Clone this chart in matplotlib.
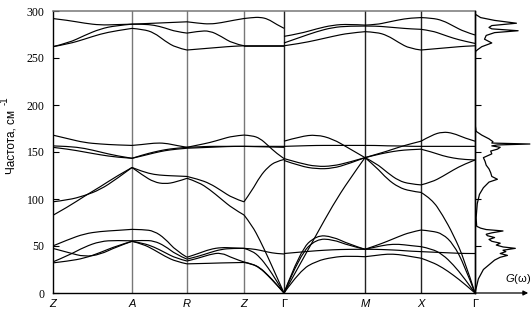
import numpy as np
import matplotlib
matplotlib.use('Agg')
import matplotlib.pyplot as plt
from matplotlib.path import Path
from matplotlib.patches import PathPatch

# high-symmetry points along the path (relative path length) and their labels
kpath = [0, 79.3, 134.3, 191.3, 231.3, 312.3, 368.3, 422.3]
klabels = ['Z', 'A', 'R', 'Z', 'Γ', 'M', 'X', 'Γ']

# phonon branches, cm^-1, read at 6 equally spaced points along each segment
seg_ZA = [
    [292, 290, 287, 285, 285.5, 286],
    [262, 266, 274, 281, 284.5, 286],
    [262, 265, 270, 275.5, 279, 281.5],
    [168, 164, 160, 158.5, 157.5, 157],
    [156.5, 156, 154, 150, 146, 143.3],
    [155, 153, 150, 147, 144.5, 143.3],
    [97, 99, 103.5, 110, 121, 133.5],
    [82.5, 92, 103, 113, 124, 133.5],
    [50, 57, 63, 65.5, 66.5, 67.7],
    [47.5, 43, 38.5, 41, 49, 55],
    [33, 40, 49, 55, 56, 55.5],
    [32, 34, 37, 43, 50, 55],
]
seg_AR = [
    [286, 286.5, 287, 287.5, 288, 288.5],
    [286, 286, 285, 282, 278, 276.5],
    [281.5, 280.5, 277, 268, 261, 258.5],
    [157, 158, 159.5, 159.5, 157, 155],
    [143.3, 147, 150, 152.5, 154, 155],
    [143.3, 146, 149, 151.5, 153, 154],
    [133.5, 129, 126, 125, 124.5, 124],
    [133.5, 125, 118, 116, 118, 122],
    [67.7, 67.5, 66, 58, 45, 38],
    [55.5, 56, 55.5, 50, 41, 36],
    [55, 53, 49, 43, 37, 34],
    [55, 52, 46, 39, 33.5, 31],
]
seg_RZ = [
    [288.5, 287, 286, 287.5, 290, 292],
    [276.5, 278.5, 279, 273, 265.5, 263],
    [258.5, 259.5, 260.5, 261.5, 262.5, 263],
    [155, 157.5, 160, 163.5, 167, 168],
    [155, 155.5, 156, 156, 156, 156],
    [154, 154.5, 155, 155.5, 156, 156],
    [124, 121, 116.5, 109, 101, 97],
    [122, 118, 110, 100, 90, 83],
    [38, 42, 46.5, 48.5, 48, 47.5],
    [36, 39, 43, 46.5, 47.5, 47.5],
    [34, 37, 41, 43, 37, 33],
    [31, 31.3, 31.6, 32, 32.2, 32.5],
]
seg_ZG = [
    [292, 293, 293.4, 291.5, 286, 281.6],
    [263, 263, 263, 263, 263, 263],
    [262.5, 262.5, 262.5, 262.5, 262.5, 262.5],
    [168, 167.5, 164.5, 157, 149, 143],
    [156, 156, 156, 156, 156, 156],
    [156, 155.8, 155.6, 155.4, 155.2, 155],
    [97, 109, 124, 134, 140, 142],
    [83, 72, 56, 38, 19, 0],
    [47.5, 47, 45.5, 43.5, 42, 41.5],
    [47.5, 45, 38, 27, 14, 0],
    [33, 31, 27, 19, 10, 0],
    [32.5, 31, 26.5, 18.5, 9.5, 0],
]
seg_GM = [
    [273, 276, 281, 285, 286, 285],
    [266, 272, 278, 282.5, 284, 284],
    [263, 265.5, 269, 273, 276.5, 278],
    [161.5, 166.5, 168.5, 164, 154, 144],
    [156, 156.5, 157, 157, 157, 157],
    [143, 138, 134.5, 135, 139, 144],
    [141, 135, 132, 132.5, 137.5, 144],
    [0, 31, 62, 93, 120, 144],
    [0, 45, 61.5, 60, 52, 46.5],
    [0, 41, 57.5, 57, 50.5, 46.5],
    [42, 43.5, 45, 46, 46.5, 46.5],
    [0, 24, 34, 38, 39.5, 38.6],
]
seg_MX = [
    [285, 285.5, 288, 290.5, 292.5, 293],
    [284, 284, 283, 282, 281, 280.5],
    [278, 277.5, 274, 266.5, 260, 258.5],
    [144, 147.5, 151, 155, 158.5, 161.5],
    [157, 157, 156.5, 156.5, 156, 156],
    [144, 147, 149.5, 151.5, 152.5, 153],
    [144, 138, 128, 119.5, 116, 115],
    [144, 134, 121, 112.5, 108.5, 107],
    [46.5, 50.5, 55, 60, 64.5, 67],
    [46.5, 49, 51.5, 52, 50.5, 49.3],
    [46.5, 46.5, 46, 45.5, 44.5, 44],
    [38.6, 40, 41.5, 41, 39, 37],
]
seg_XG = [
    [293, 292.5, 290, 284, 278, 274.5],
    [280.5, 279, 275, 271, 268, 265.5],
    [258.5, 259.5, 260.5, 261.5, 262.5, 263],
    [161.5, 168, 171.5, 170, 165, 161.5],
    [156, 156, 156, 156, 156, 156],
    [153, 150, 146, 143.5, 142, 141.5],
    [115, 118, 124, 131, 137, 141.5],
    [107, 100, 83, 62, 36, 0],
    [67, 66, 63, 52, 30, 0],
    [49.3, 47, 41, 30, 16, 0],
    [44, 43.5, 43, 42.5, 42, 42],
    [37, 33, 27, 19, 10, 0],
]
segments = [seg_ZA, seg_AR, seg_RZ, seg_ZG, seg_GM, seg_MX, seg_XG]

# phonon density of states G(w), relative units
dos_freq = [0, 5, 15, 25, 30, 35, 38, 40, 42, 44, 45.5, 47.5, 49, 51, 53, 55, 57,
            59, 61, 62.5, 64, 66, 67.5, 69, 71, 80, 95, 105, 112, 118, 121, 124,
            128, 132, 136, 140, 144, 148, 151, 153, 155, 156.5, 157.5, 158.5,
            159.5, 161, 164, 168, 172, 180, 250, 257, 259, 262, 266, 270, 274,
            277, 279, 281, 282.5, 284.5, 287, 290, 293, 296]
dos_g = [0, 0.02, 0.06, 0.15, 0.25, 0.35, 0.45, 0.58, 0.45, 0.55, 0.5, 0.72, 0.5,
         0.38, 0.45, 0.3, 0.25, 0.35, 0.22, 0.2, 0.3, 0.5, 0.2, 0.1, 0.03, 0.02,
         0.04, 0.08, 0.15, 0.25, 0.4, 0.3, 0.28, 0.25, 0.2, 0.18, 0.15, 0.3, 0.28,
         0.4, 0.45, 0.3, 0.4, 0.98, 0.3, 0.32, 0.25, 0.12, 0.02, 0.0, 0.0, 0.01,
         0.05, 0.12, 0.3, 0.17, 0.2, 0.35, 0.77, 0.3, 0.25, 0.3, 0.74, 0.35, 0.1,
         0.02]

plt.rcParams['font.family'] = 'Liberation Sans'
plt.rcParams['mathtext.fontset'] = 'custom'
plt.rcParams['mathtext.rm'] = 'Liberation Sans'
plt.rcParams['mathtext.it'] = 'Liberation Sans:italic'


def smooth_path(xs, ys):
    # quadratic b-spline style path through the sampled points
    verts = [(xs[0], ys[0])]
    codes = [Path.MOVETO]
    n = len(xs)
    for i in range(1, n - 1):
        if i == n - 2:
            end = (xs[-1], ys[-1])
        else:
            end = ((xs[i] + xs[i + 1]) / 2, (ys[i] + ys[i + 1]) / 2)
        verts += [(xs[i], ys[i]), end]
        codes += [Path.CURVE3, Path.CURVE3]
    return Path(verts, codes)


fig = plt.figure(figsize=(5.31, 3.10), dpi=100)
ax = fig.add_axes([52.7 / 531, 17 / 310, (475 - 52.7) / 531, 282 / 310])
ax2 = fig.add_axes([475 / 531, 17 / 310, 56 / 531, 282 / 310])

for i, seg in enumerate(segments):
    xs = np.linspace(kpath[i], kpath[i + 1], len(seg[0]))
    for band in seg:
        ax.add_patch(PathPatch(smooth_path(xs, band), fill=False,
                               lw=0.85, edgecolor='black', zorder=3))

for k, lab in zip(kpath[1:-1], klabels[1:-1]):
    col = '#777777' if lab in ('A', 'R', 'Z') else '#222222'
    ax.axvline(k, color=col, lw=1.0, zorder=1)

ax.set_xlim(kpath[0], kpath[-1])
ax.set_ylim(0, 300)
ax.set_xticks(kpath)
ax.set_xticklabels(klabels)
ax.tick_params(axis='x', length=0, pad=4.5, labelsize=8)
for t in ax.get_xticklabels():
    t.set_fontstyle('normal' if t.get_text() == 'Γ' else 'italic')
ax.set_yticks([0, 50, 100, 150, 200, 250, 300])
ax.tick_params(axis='y', direction='in', length=4, width=0.8, pad=6, labelsize=8.5)
for t in ax.get_yticklabels():
    t.set_fontfamily('Liberation Serif')

ax.spines['top'].set_color('#777777')
ax.spines['top'].set_linewidth(1.1)
ax.spines['left'].set_linewidth(1.0)
ax.spines['bottom'].set_linewidth(1.0)
ax.spines['right'].set_linewidth(1.0)

# density of states panel
ax2.plot(dos_g, dos_freq, color='black', lw=0.9)
ax2.set_xlim(0, 1)
ax2.set_ylim(0, 300)
ax2.patch.set_alpha(0)
for s in ('top', 'right', 'bottom'):
    ax2.spines[s].set_visible(False)
ax2.spines['left'].set_linewidth(1.0)
ax2.set_xticks([])
ax2.set_yticks([50, 100, 150, 200, 250])
ax2.tick_params(axis='y', direction='in', length=4, width=0.8, labelleft=False)
ax2.annotate('', xy=(0.95, 0), xytext=(0, 0), xycoords='axes fraction',
             arrowprops=dict(arrowstyle='-|>', color='black', lw=0.9,
                             mutation_scale=7, shrinkA=0, shrinkB=0),
             annotation_clip=False)
ax2.text(0.53, 15, r'$G$(ω)', fontsize=8, ha='left', va='center')

fig.text(12 / 531, 1 - 142 / 310, 'Частота, см', rotation=90,
         ha='center', va='center', fontsize=8.5)
fig.text(5 / 531, 1 - 101 / 310, '-1', rotation=90,
         ha='center', va='center', fontsize=7)

fig.savefig('out.png', dpi=100)
